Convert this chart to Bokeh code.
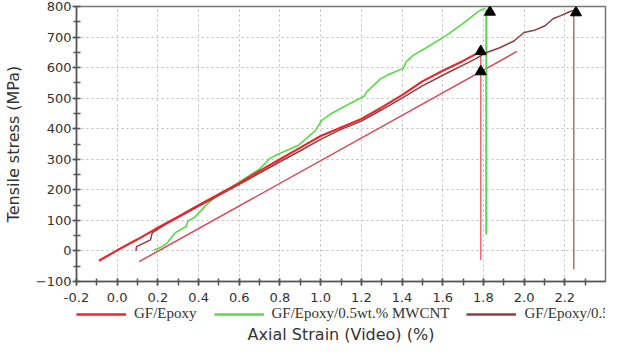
from bokeh.plotting import figure
from bokeh.layouts import column
from bokeh.models import Legend, LegendItem, PrintfTickFormatter, SingleIntervalTicker, Range1d, Title
from bokeh.embed import file_html
from bokeh.resources import INLINE

# ---- data ----
epoxy_x = [-0.09, 0.0, 0.1, 0.2, 0.3, 0.4, 0.5, 0.6, 0.7, 0.8, 0.9, 1.0, 1.1, 1.2, 1.3, 1.4, 1.5, 1.6, 1.7, 1.78]
epoxy_y = [-32, 2, 38, 76, 112, 150, 186, 222, 262, 300, 338, 376, 404, 432, 470, 510, 555, 590, 622, 650]

epoxy_offset_x = [0.108, 1.965]
epoxy_offset_y = [-35, 653]

epoxy_fail_x = [1.787, 1.787]
epoxy_fail_y = [653, -30]

mwcnt_x = [0.18, 0.22, 0.244, 0.284, 0.34, 0.348, 0.38, 0.412, 0.444, 0.508, 0.6, 0.685, 0.70, 0.749, 0.78,
           0.893, 0.973, 0.989, 1.005, 1.053, 1.149, 1.213, 1.23, 1.294, 1.342, 1.406, 1.42, 1.454, 1.517,
           1.615, 1.71, 1.775, 1.81]
mwcnt_y = [2, 14, 25, 59, 81, 98, 110, 132, 155, 189, 225, 262, 268, 302, 313,
           347, 393, 410, 427, 450, 484, 506, 523, 563, 580, 597, 619, 640, 664,
           704, 750, 784, 795]

mwcnt_fail_x = [1.814, 1.814]
mwcnt_fail_y = [790, 54]

nc_x = [0.092, 0.095, 0.113, 0.164, 0.172, 0.196, 0.25, 0.3, 0.4, 0.5, 0.6, 0.7, 0.8, 0.9, 1.0, 1.1, 1.2,
        1.3, 1.4, 1.5, 1.6, 1.7, 1.766, 1.806, 1.88, 1.95, 2.0, 2.05, 2.103, 2.142, 2.18, 2.223, 2.247]
nc_y = [0, 14, 20, 36, 59, 70, 92, 110, 146, 182, 218, 255, 292, 328, 365, 398, 425,
        462, 500, 540, 575, 608, 630, 647, 665, 687, 715, 722, 737, 760, 770, 783, 789]

nc_fail_x = [2.244, 2.244]
nc_fail_y = [785, -60]

peak_x = [1.787, 1.787, 1.832, 2.255]
peak_y = [653, 587, 782, 780]

labels = ["GF/Epoxy", "GF/Epoxy/0.5wt.% MWCNT", "GF/Epoxy/0.5wt.% NC"]
x_title = "Axial Strain (Video) (%)"
y_title = "Tensile stress (MPa)"

RED = "#e8262c"
GREEN = "#5ad94a"
BROWN = "#8e3d40"

# ---- main plot ----
p = figure(width=610, height=304, output_backend="svg", toolbar_location=None,
           x_range=Range1d(-0.2, 2.4), y_range=Range1d(-100, 800),
           min_border_left=63, min_border_right=5, min_border_top=6, min_border_bottom=20)
p.background_fill_color = "white"
p.border_fill_color = "white"
p.outline_line_color = "#777777"
p.outline_line_width = 1.5

for g in (p.xgrid, p.ygrid):
    g.grid_line_color = "#bdbdbd"
    g.grid_line_dash = "2 3"
    g.grid_line_width = 1

p.xaxis.ticker = SingleIntervalTicker(interval=0.2, num_minor_ticks=2)
p.yaxis.ticker = SingleIntervalTicker(interval=100, num_minor_ticks=2)
p.xaxis.formatter = PrintfTickFormatter(format="%.1f")

for ax in (p.xaxis, p.yaxis):
    ax.axis_line_color = "#555555"
    ax.axis_line_width = 1.5
    ax.major_tick_line_color = "#555555"
    ax.minor_tick_line_color = "#555555"
    ax.major_tick_line_width = 1.5
    ax.minor_tick_line_width = 1.5
    ax.major_label_text_font = "DejaVu Sans"
    ax.major_label_text_font_size = "13px"
    ax.major_label_text_color = "#333333"
    ax.axis_label_text_font = "DejaVu Sans"
    ax.axis_label_text_font_size = "16px"
    ax.axis_label_text_font_style = "normal"
    ax.axis_label_text_color = "#333333"

p.xaxis.major_tick_in = 3
p.xaxis.major_tick_out = 4
p.xaxis.minor_tick_in = 3
p.xaxis.minor_tick_out = 4
p.xaxis.major_label_standoff = 7

p.yaxis.major_tick_in = 0
p.yaxis.major_tick_out = 4
p.yaxis.minor_tick_in = 4
p.yaxis.minor_tick_out = 3
p.yaxis.major_label_standoff = 1
p.yaxis.axis_label = y_title
p.yaxis.axis_label_standoff = 10

p.line(epoxy_offset_x, epoxy_offset_y, line_color="#dd4650", line_width=1.5)
p.line(epoxy_fail_x, epoxy_fail_y, line_color="#ee6a74", line_width=1.5)
p.line(mwcnt_fail_x, mwcnt_fail_y, line_color=GREEN, line_width=2)
p.line(nc_fail_x, nc_fail_y, line_color="#b56a74", line_width=1.5)
p.line(mwcnt_x, mwcnt_y, line_color=GREEN, line_width=1.6)
p.line(nc_x, nc_y, line_color=BROWN, line_width=1.5)
p.line(epoxy_x, epoxy_y, line_color=RED, line_width=2.2)
p.scatter(peak_x, peak_y, marker="triangle", size=11, fill_color="black", line_color="black")

# ---- legend strip with the x-axis title below it ----
lf = figure(width=610, height=39, output_backend="svg", toolbar_location=None,
            x_axis_type=None, y_axis_type=None,
            x_range=Range1d(10, 11), y_range=Range1d(5000, 5001),
            min_border_left=0, min_border_right=0, min_border_top=0, min_border_bottom=0)
lf.outline_line_color = None
lf.background_fill_color = "white"
lf.border_fill_color = "white"
# series drawn outside this strip's visible ranges: only their legend glyphs show
l_ep = lf.line(epoxy_x, epoxy_y, line_color=RED, line_width=2.5)
l_mw = lf.line(mwcnt_x, mwcnt_y, line_color=GREEN, line_width=2.5)
l_nc = lf.line(nc_x, nc_y, line_color=BROWN, line_width=2.5)

legend = Legend(items=[LegendItem(label=labels[0], renderers=[l_ep]),
                       LegendItem(label=labels[1], renderers=[l_mw]),
                       LegendItem(label=labels[2], renderers=[l_nc])],
                orientation="horizontal", location=(0, 0),
                label_text_font="Liberation Serif", label_text_font_size="15px",
                label_text_color="#333333", label_height=16,
                glyph_width=50, glyph_height=14, label_standoff=8, spacing=17,
                padding=0, margin=0, border_line_alpha=0, background_fill_alpha=0)
lf.add_layout(legend, "center")

xt = Title(text=x_title, align="center", text_font="DejaVu Sans",
           text_font_size="16px", text_font_style="normal", text_color="#333333", standoff=0)
lf.add_layout(xt, "below")

open("out.html", "w").write(file_html(column(p, lf, spacing=0), INLINE))
